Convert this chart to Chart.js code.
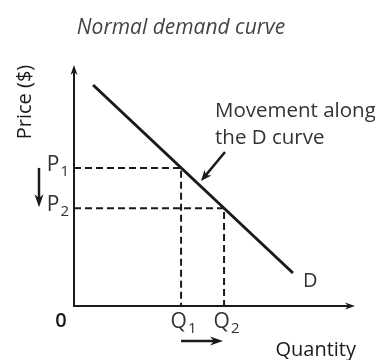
<!DOCTYPE html>
<html lang="en">
<head>
<meta charset="UTF-8">
<title>Normal demand curve</title>
<script src="https://cdn.jsdelivr.net/npm/chart.js"></script>
<style>
  html, body { margin: 0; padding: 0; background: #fff; }
  #wrap { width: 375px; height: 360px; position: relative; }
</style>
</head>
<body>
<div id="wrap"><canvas id="demandChart" width="375" height="360"></canvas></div>
<script>
// demand line end points (quantity, price) on a 0-10 scale
const demandQ = [0.68, 7.79];
const demandP = [9.17, 1.37];
// the two points on the curve
const priceLevels = [5.73, 4.06];
const quantityLevels = [3.81, 5.34];
const priceLabels = ['P', 'P'];
const priceSubs = ['1', '2'];
const quantityLabels = ['Q', 'Q'];
const quantitySubs = ['1', '2'];

const FONT = '"Open Sans", "Noto Sans", sans-serif';
const INK = '#1a1a1a';

function guideSet(q, p) {
    return {
        data: [{ x: 0, y: p }, { x: q, y: p }, { x: q, y: 0 }],
        borderColor: INK,
        borderWidth: 2,
        borderDash: [7, 4],
        pointRadius: 0,
        fill: false,
        showLine: true
    };
}

function arrow(ctx, x1, y1, x2, y2, len, half) {
    const a = Math.atan2(y2 - y1, x2 - x1);
    ctx.beginPath();
    ctx.moveTo(x1, y1);
    ctx.lineTo(x2 - Math.cos(a) * len * 0.6, y2 - Math.sin(a) * len * 0.6);
    ctx.stroke();
    ctx.beginPath();
    ctx.moveTo(x2, y2);
    ctx.lineTo(x2 - Math.cos(a) * len + Math.sin(a) * half, y2 - Math.sin(a) * len - Math.cos(a) * half);
    ctx.lineTo(x2 - Math.cos(a) * len * 0.7, y2 - Math.sin(a) * len * 0.7);
    ctx.lineTo(x2 - Math.cos(a) * len - Math.sin(a) * half, y2 - Math.sin(a) * len + Math.cos(a) * half);
    ctx.closePath();
    ctx.fill();
}

function subText(ctx, main, sub, x, y, size, align) {
    const subSize = Math.round(size * 0.72);
    ctx.font = size + 'px ' + FONT;
    const w1 = ctx.measureText(main).width;
    ctx.font = subSize + 'px ' + FONT;
    const w2 = ctx.measureText(sub).width;
    let x0 = x;
    if (align === 'center') x0 = x - (w1 + w2) / 2;
    if (align === 'right') x0 = x - (w1 + w2);
    ctx.textAlign = 'left';
    ctx.font = size + 'px ' + FONT;
    ctx.fillText(main, x0, y);
    ctx.font = subSize + 'px ' + FONT;
    ctx.fillText(sub, x0 + w1 + 1, y + 5);
}

const diagram = {
    id: 'diagram',
    afterDatasetsDraw(chart) {
        const ctx = chart.ctx;
        const xs = chart.scales.x, ys = chart.scales.y;
        const x0 = xs.getPixelForValue(0), y0 = ys.getPixelForValue(0);
        const top = chart.chartArea.top, right = chart.chartArea.right;
        ctx.save();
        ctx.strokeStyle = INK;
        ctx.fillStyle = INK;
        ctx.lineWidth = 2;
        // axes with arrow heads
        arrow(ctx, x0, y0 + 1, x0, top, 10, 3.5);
        arrow(ctx, x0 - 1, y0, right, y0, 10, 3.5);

        ctx.textBaseline = 'alphabetic';
        ctx.fillStyle = '#333';
        // price and quantity markers
        priceLevels.forEach((p, i) => {
            subText(ctx, priceLabels[i], priceSubs[i], 68, ys.getPixelForValue(p) + 3, 21, 'right');
        });
        quantityLevels.forEach((q, i) => {
            subText(ctx, quantityLabels[i], quantitySubs[i], xs.getPixelForValue(q) + 2, 328, 21, 'center');
        });
        ctx.font = '20px ' + FONT;
        ctx.textAlign = 'left';
        ctx.fillText('D', xs.getPixelForValue(demandQ[1]) + 10, ys.getPixelForValue(demandP[1]) + 14);

        // direction of the movement
        ctx.fillStyle = INK;
        ctx.lineWidth = 2.5;
        arrow(ctx, 39, ys.getPixelForValue(priceLevels[0]), 39, ys.getPixelForValue(priceLevels[1]) - 1, 13, 4.5);
        arrow(ctx, xs.getPixelForValue(quantityLevels[0]), 341, xs.getPixelForValue(quantityLevels[1]) - 1, 341, 13, 4.5);

        // callout
        ctx.lineWidth = 2.5;
        arrow(ctx, 225, 152, 201, 181, 11, 4.5);
        ctx.fillStyle = '#333';
        ctx.font = '20.5px ' + FONT;
        ctx.fillText('Movement along', 215, 117);
        ctx.fillText('the D curve', 215, 144);

        // axis titles
        ctx.fillStyle = INK;
        ctx.font = '500 20px ' + FONT;
        ctx.textAlign = 'right';
        ctx.fillText('Quantity', 356, 356);
        ctx.textAlign = 'center';
        ctx.font = '600 20px ' + FONT;
        ctx.fillText('0', 61, 327);
        ctx.font = '500 20px ' + FONT;
        ctx.save();
        ctx.translate(31, 102);
        ctx.rotate(-Math.PI / 2);
        ctx.fillText('Price ($)', 0, 0);
        ctx.restore();

        // title
        ctx.fillStyle = '#444';
        ctx.font = 'italic 21px ' + FONT;
        ctx.fillText('Normal demand curve', 181, 34);
        ctx.restore();
    }
};

new Chart(document.getElementById('demandChart').getContext('2d'), {
    type: 'scatter',
    data: {
        datasets: [
            guideSet(quantityLevels[0], priceLevels[0]),
            guideSet(quantityLevels[1], priceLevels[1]),
            {
                data: demandQ.map((q, i) => ({ x: q, y: demandP[i] })),
                borderColor: INK,
                borderWidth: 3,
                pointRadius: 0,
                showLine: true,
                fill: false
            }
        ]
    },
    options: {
        responsive: false,
        animation: false,
        layout: { padding: { left: 74, right: 20, top: 65, bottom: 54 } },
        plugins: { legend: { display: false }, tooltip: { enabled: false } },
        scales: {
            x: { type: 'linear', min: 0, max: 10, display: false },
            y: { type: 'linear', min: 0, max: 10, display: false }
        }
    },
    plugins: [diagram]
});
</script>
</body>
</html>
